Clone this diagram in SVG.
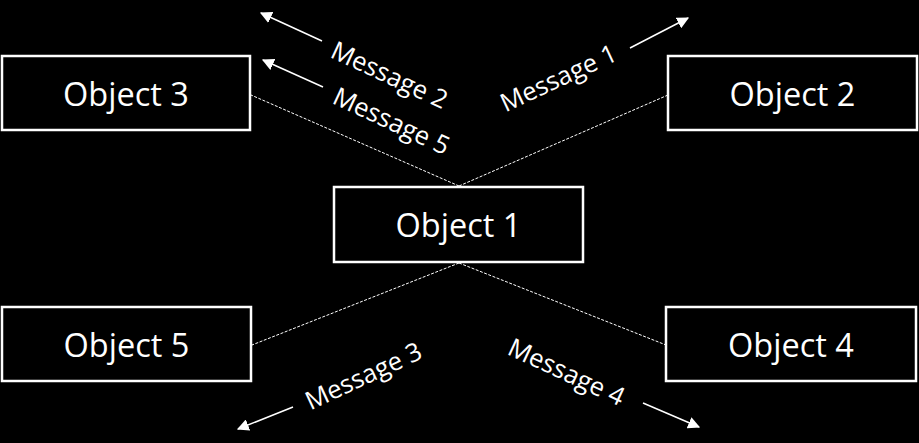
<svg xmlns="http://www.w3.org/2000/svg" width="919" height="443" viewBox="0 0 919 443">
<style>
.box{fill:#000;stroke:#fff;stroke-width:2.5}
.lbl{fill:#fff;font-family:"Open Sans","Liberation Sans",sans-serif;font-size:32.5px;text-anchor:middle;dominant-baseline:central}
.msg{fill:#fff;font-family:"Open Sans","Liberation Sans",sans-serif;font-size:25.5px;text-anchor:middle;dominant-baseline:central}
.dot{stroke:#fff;stroke-width:1;stroke-dasharray:3 1.5;fill:none}
.arr{stroke:#fff;stroke-width:1.5;fill:none;marker-end:url(#ah)}
</style>
<defs>
<marker id="ah" viewBox="0 0 10 10" refX="9" refY="5" markerWidth="12" markerHeight="12" markerUnits="userSpaceOnUse" orient="auto">
<path d="M0,0 L10,5 L0,10 z" fill="#fff"/>
</marker>
</defs>
<rect width="919" height="443" fill="#000"/>
<g id="connectors">
<line class="dot" x1="459" y1="186" x2="251" y2="95"/>
<line class="dot" x1="459" y1="186" x2="668" y2="95"/>
<line class="dot" x1="459" y1="263" x2="252" y2="345"/>
<line class="dot" x1="459" y1="263" x2="666" y2="345"/>
<line class="arr" x1="322" y1="41" x2="261" y2="13"/>
<line class="arr" x1="323" y1="87" x2="263" y2="60"/>
<line class="arr" x1="630" y1="48" x2="688" y2="18"/>
<line class="arr" x1="293" y1="407" x2="238" y2="429"/>
<line class="arr" x1="643" y1="403" x2="699" y2="427"/>
<text class="msg" transform="translate(390,74) rotate(25)">Message 2</text>
<text class="msg" transform="translate(392,120) rotate(25)">Message 5</text>
<text class="msg" transform="translate(558,77) rotate(-25)">Message 1</text>
<text class="msg" transform="translate(363,375) rotate(-25)">Message 3</text>
<text class="msg" transform="translate(567,371) rotate(25)">Message 4</text>
</g>
<g id="object1"><rect class="box" x="334" y="187" width="249" height="75"/><text class="lbl" x="458.5" y="224.5">Object 1</text></g>
<g id="object2"><rect class="box" x="668" y="56" width="249" height="74"/><text class="lbl" x="792.5" y="93">Object 2</text></g>
<g id="object3"><rect class="box" x="2" y="56" width="248" height="74"/><text class="lbl" x="126" y="93">Object 3</text></g>
<g id="object4"><rect class="box" x="666" y="307" width="250" height="74"/><text class="lbl" x="791" y="344">Object 4</text></g>
<g id="object5"><rect class="box" x="2" y="307" width="249" height="74"/><text class="lbl" x="126.5" y="344">Object 5</text></g>
</svg>
